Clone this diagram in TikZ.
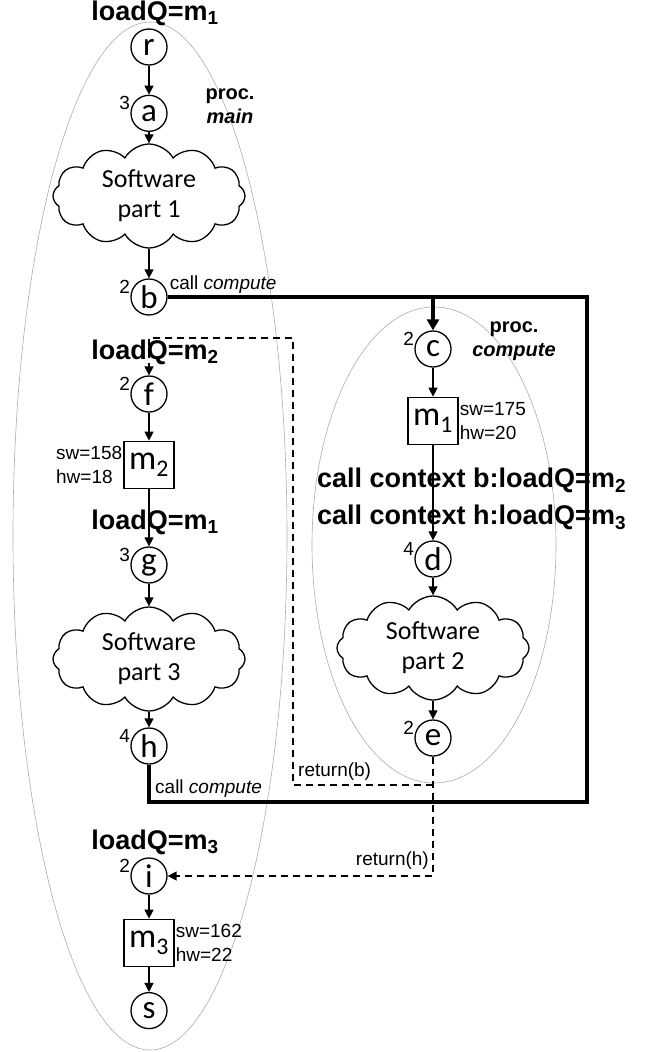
\documentclass[tikz,border=0pt]{standalone}
\usepackage{fontspec}
\setmainfont{Liberation Sans}
\newfontfamily\calfont{Carlito}
\usepackage{tikz}
\usetikzlibrary{arrows.meta,positioning,shapes.symbols}

\begin{document}
\begin{tikzpicture}[
  x=1pt, y=-1pt,
  state/.style={circle, draw, line width=1.3pt, minimum size=36pt, inner sep=0pt, font=\calfont\fontsize{33}{33}\selectfont},
  memblock/.style={draw, line width=1.3pt, minimum width=50pt, minimum height=47pt, inner sep=0pt, font=\calfont\fontsize{34}{34}\selectfont},
  swpart/.style={cloud, cloud puffs=12, cloud puff arc=120, aspect=2, draw, line width=1.3pt, minimum width=192pt, minimum height=104pt, inner sep=-6pt, align=center, font=\calfont\fontsize{26}{30}\selectfont},
  loadq/.style={inner sep=0pt, font=\bfseries\fontsize{27}{37}\selectfont},
  weight/.style={inner sep=1pt, align=left, font=\fontsize{19}{24}\selectfont},
  cnt/.style={inner sep=0.5pt, font=\fontsize{19}{19}\selectfont},
  note/.style={inner sep=0pt, font=\fontsize{19}{19}\selectfont},
  procname/.style={inner sep=0pt, align=center, font=\bfseries\fontsize{20}{24}\selectfont},
  flow/.style={-{Triangle[length=9pt,width=9pt]}, line width=1.3pt},
  callline/.style={line width=3.4pt},
  retline/.style={dash pattern=on 7pt off 5pt, line width=1.5pt},
  procline/.style={draw=gray!65, line width=0.6pt}
]
  \useasboundingbox (0,0) rectangle (647,1052);
  % procedures
  \draw[procline] (150,536) ellipse [x radius=137pt, y radius=514pt];
  \draw[procline] (434,545) ellipse [x radius=122pt, y radius=238pt];
  \node[procname] (pmain) at (230,106) {proc.\\ \textit{main}};
  \node[procname] (pcomp) at (514,341) {proc.\\ \textit{compute}};

  % proc. main
  \node[state] (r) at (149,47) {r};
  \node[state, label={[cnt]172:3}, below=29pt of r] (a) {a};
  \node[swpart] (sw1) at (149,196) {Software\\part 1};
  \node[state, label={[cnt]172:2}] (b) at (149,297) {b};
  \node[state, label={[cnt]172:2}] (f) at (149,394) {f};
  \node[memblock, below=28pt of f] (m2) {m\textsubscript{2}};
  \node[state, label={[cnt]172:3}] (g) at (149,565) {g};
  \node[swpart] (sw3) at (149,659) {Software\\part 3};
  \node[state, label={[cnt]172:4}] (h) at (149,746) {h};
  \node[state, label={[cnt]172:2}] (i) at (149,876) {i};
  \node[memblock, below=24pt of i] (m3) {m\textsubscript{3}};
  \node[state, below=25pt of m3] (s) {s};

  % proc. compute
  \node[state, label={[cnt]172:2}] (c) at (433,349) {c};
  \node[memblock, below=29pt of c] (m1) {m\textsubscript{1}};
  \node[state, label={[cnt]172:4}] (d) at (433,559) {d};
  \node[swpart] (sw2) at (433,648) {Software\\part 2};
  \node[state, label={[cnt]172:2}] (e) at (433,738) {e};

  % load labels
  \node[loadq] (lq1) at (155,13) {loadQ=m\textsubscript{1}};
  \node[loadq] (lq2) at (155,352) {loadQ=m\textsubscript{2}};
  \node[loadq] (lq4) at (155,522) {loadQ=m\textsubscript{1}};
  \node[loadq] (lq3) at (155,842) {loadQ=m\textsubscript{3}};
  \node[loadq, align=left, anchor=west] (ctx) at (317,499) {call context b:loadQ=m\textsubscript{2}\\call context h:loadQ=m\textsubscript{3}};

  % weights
  \node[weight, anchor=west] (w1) at (m1.east) {sw=175\\hw=20};
  \node[weight, anchor=east] (w2) at (m2.west) {sw=158\\hw=18};
  \node[weight, anchor=west] (w3) at (m3.east) {sw=162\\hw=22};

  % control flow
  \draw[flow] (r) -- (a);
  \draw[flow] (a) -- (sw1);
  \draw[flow] (sw1) -- (b);
  \draw[flow] (f) -- (m2);
  \draw[flow] (m2) -- (g);
  \draw[flow] (g) -- (sw3);
  \draw[flow] (sw3) -- (h);
  \draw[flow] (i) -- (m3);
  \draw[flow] (m3) -- (s);
  \draw[flow] (c) -- (m1);
  \draw[flow] (m1) -- (d);
  \draw[flow] (d) -- (sw2);
  \draw[flow] (sw2) -- (e);

  % calls
  \coordinate (callR) at (587,297);
  \coordinate (callB) at (587,802);
  \coordinate (callL) at (149,802);
  \coordinate (callJ) at (433,297);
  \draw[callline] (b.east) -- (callR) -- (callB) -- (callL) -- (h.south);
  \draw[callline, -{Triangle[length=11pt,width=12pt]}] (callJ) -- (c.north);
  \node[note, anchor=south west] (cb) at ([xshift=2pt,yshift=3pt]b.east) {call \textit{compute}};
  \node[note, anchor=south west] (ch) at ([xshift=6pt,yshift=4pt]callL) {call \textit{compute}};

  % returns
  \coordinate (retE) at (433,785);
  \coordinate (retBL) at (293,785);
  \coordinate (retBT) at (293,338);
  \coordinate (retF) at (149,338);
  \coordinate (retI) at (433,876);
  \draw[retline, -{Triangle[length=9pt,width=9pt]}] (e.south) -- (retI) -- (i.east);
  \draw[retline, -{Triangle[length=9pt,width=9pt]}] (retE) -- (retBL) -- (retBT) -- (retF) -- (f.north);
  \node[note, anchor=south west] (rb) at ([xshift=5pt,yshift=4pt]retBL) {return(b)};
  \node[note, anchor=south east] (rh) at ([xshift=-4pt,yshift=6pt]retI) {return(h)};
\end{tikzpicture}
\end{document}
